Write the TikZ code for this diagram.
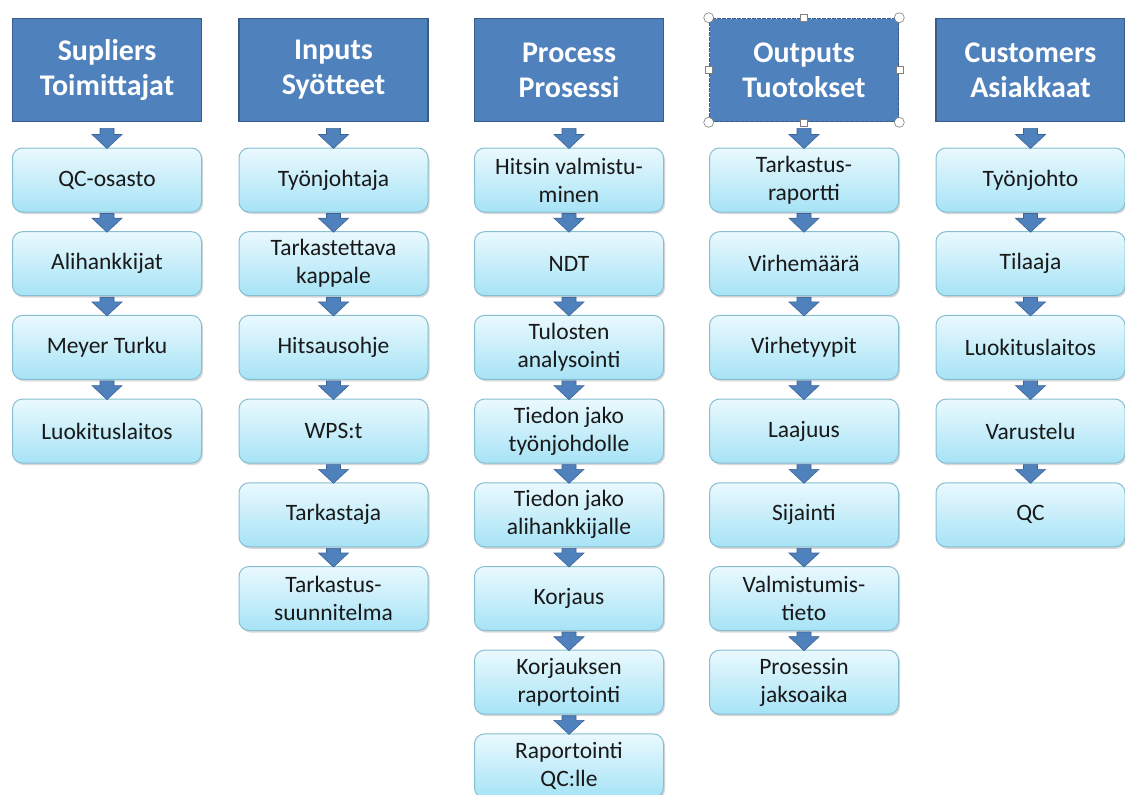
\documentclass[tikz,border=0pt]{standalone}
\usepackage{fontspec}
\setmainfont{Carlito}
\usetikzlibrary{calc,shadows}
\definecolor{headblue}{RGB}{79,129,189}
\definecolor{headedge}{RGB}{56,93,138}
\definecolor{boxtop}{RGB}{234,249,254}
\definecolor{boxbot}{RGB}{166,227,246}
\definecolor{boxedge}{RGB}{135,190,210}
\definecolor{arrowedge}{RGB}{60,100,150}
\definecolor{txt}{RGB}{25,25,25}
\tikzset{
  headbox/.style={draw=headedge, line width=1.6pt, fill=headblue, minimum width=189pt, minimum height=103pt,
    align=center, text=white, font=\fontsize{30}{35}\selectfont\bfseries, inner sep=0pt},
  itembox/.style={draw=boxedge, line width=1pt, rounded corners=10pt, top color=boxtop, bottom color=boxbot,
    minimum width=189pt, minimum height=64pt, align=center, text=txt,
    font=\fontsize{23.5}{28}\selectfont, inner sep=0pt,
    drop shadow={shadow xshift=1.5pt, shadow yshift=-2pt, opacity=0.3, fill=gray}},
  blockarrow/.style={fill=headblue, draw=arrowedge, line width=0.6pt, to path={
    let \p1=(\tikztostart), \p2=(\tikztotarget) in
    (\x1-7pt,\y1-#1) -- (\x1-7pt,\y2+13pt) -- (\x1-15pt,\y2+13pt) -- (\x1,\y2-1pt)
    -- (\x1+15pt,\y2+13pt) -- (\x1+7pt,\y2+13pt) -- (\x1+7pt,\y1-#1) -- cycle}},
  blockarrow/.default=0pt,
  handlecirc/.style={draw=gray, fill=white, line width=0.6pt, circle, minimum size=10pt, inner sep=0pt},
  handlesq/.style={draw=gray, fill=white, line width=0.6pt, rectangle, minimum size=7pt, inner sep=0pt}
}
\begin{document}
\begin{tikzpicture}[x=1pt,y=-1pt]
\useasboundingbox (0,0) rectangle (1125,795);
\clip (0,0) rectangle (1125,795);
\fill[white] (0,0) rectangle (1125,795);

% headers
\node[headbox] (h1) at (107,70) {Supliers\\Toimittajat};
\node[headbox] (h2) at (333.5,70) {Inputs\\Syötteet};
\node[headbox] (h3) at (569,70) {Process\\Prosessi};
\node[headbox, dash pattern=on 4pt off 1pt] (h4) at (804,70) {Outputs\\Tuotokset};
\node[headbox] (h5) at (1030.5,70) {Customers\\Asiakkaat};

% column 1
\node[itembox] (a1) at (107,180) {QC-osasto};
\node[itembox] (a2) at (107,263.7) {Alihankkijat};
\node[itembox] (a3) at (107,347.4) {Meyer Turku};
\node[itembox] (a4) at (107,431.1) {Luokituslaitos};

% column 2
\node[itembox] (b1) at (333.5,180) {Työnjohtaja};
\node[itembox] (b2) at (333.5,263.7) {Tarkastettava\\kappale};
\node[itembox] (b3) at (333.5,347.4) {Hitsausohje};
\node[itembox] (b4) at (333.5,431.1) {WPS:t};
\node[itembox] (b5) at (333.5,514.8) {Tarkastaja};
\node[itembox] (b6) at (333.5,598.5) {Tarkastus-\\suunnitelma};

% column 3
\node[itembox] (c1) at (569,180) {Hitsin valmistu-\\minen};
\node[itembox] (c2) at (569,263.7) {NDT};
\node[itembox] (c3) at (569,347.4) {Tulosten\\analysointi};
\node[itembox] (c4) at (569,431.1) {Tiedon jako\\työnjohdolle};
\node[itembox] (c5) at (569,514.8) {Tiedon jako\\alihankkijalle};
\node[itembox] (c6) at (569,598.5) {Korjaus};
\node[itembox] (c7) at (569,682.2) {Korjauksen\\raportointi};
\node[itembox] (c8) at (569,765.9) {Raportointi\\QC:lle};

% column 4
\node[itembox] (d1) at (804,180) {Tarkastus-\\raportti};
\node[itembox] (d2) at (804,263.7) {Virhemäärä};
\node[itembox] (d3) at (804,347.4) {Virhetyypit};
\node[itembox] (d4) at (804,431.1) {Laajuus};
\node[itembox] (d5) at (804,514.8) {Sijainti};
\node[itembox] (d6) at (804,598.5) {Valmistumis-\\tieto};
\node[itembox] (d7) at (804,682.2) {Prosessin\\jaksoaika};

% column 5
\node[itembox] (e1) at (1030.5,180) {Työnjohto};
\node[itembox] (e2) at (1030.5,263.7) {Tilaaja};
\node[itembox] (e3) at (1030.5,347.4) {Luokituslaitos};
\node[itembox] (e4) at (1030.5,431.1) {Varustelu};
\node[itembox] (e5) at (1030.5,514.8) {QC};

% arrows from headers
\foreach \h/\f in {h1/a1,h2/b1,h3/c1,h4/d1,h5/e1}
  \path[blockarrow=6pt] (\h.south) to (\f.north);
% arrows between items
\foreach \s/\t in {a1/a2,a2/a3,a3/a4,
                   b1/b2,b2/b3,b3/b4,b4/b5,b5/b6,
                   c1/c2,c2/c3,c3/c4,c4/c5,c5/c6,c6/c7,c7/c8,
                   d1/d2,d2/d3,d3/d4,d4/d5,d5/d6,d6/d7,
                   e1/e2,e2/e3,e3/e4,e4/e5}
  \path[blockarrow=1pt] (\s.south) to (\t.north);

% selection handles on the Outputs header
\foreach \a in {north west,north east,south west,south east}
  \node[handlecirc] at (h4.\a) {};
\foreach \a in {north,south,west,east}
  \node[handlesq] at (h4.\a) {};
\end{tikzpicture}
\end{document}
